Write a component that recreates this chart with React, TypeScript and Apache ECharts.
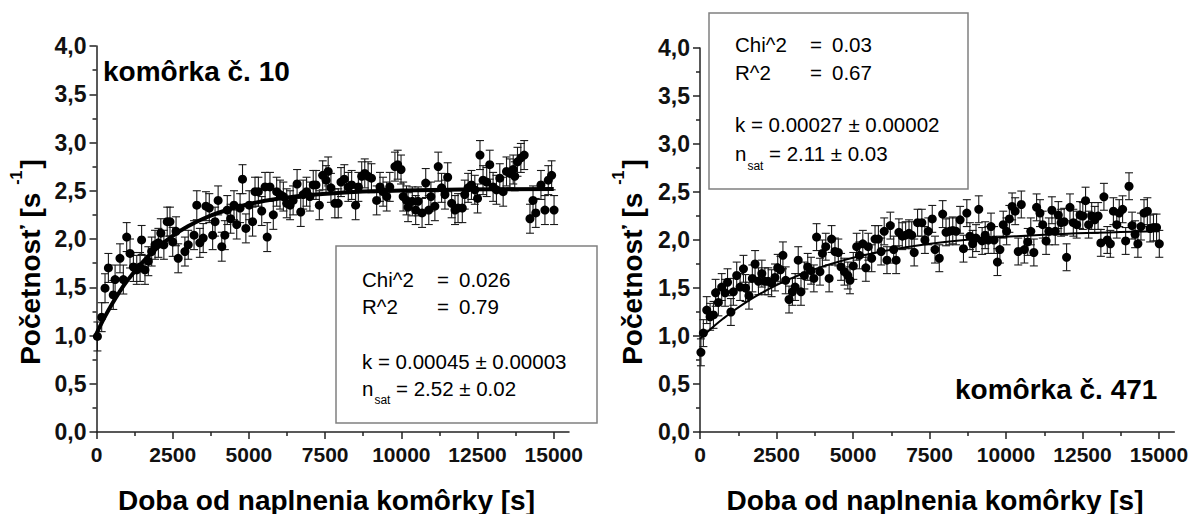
import React, { useEffect, useRef } from "react";
import * as echarts from "echarts";

// ---------- DATA ----------
const xMajorTicks = [0, 2500, 5000, 7500, 10000, 12500, 15000];
const xMinorTicks = [1250, 3750, 6250, 8750, 11250, 13750];

// cell 10 : [time s, rate s^-1]
const leftPoints: [number, number][] = [
  [30, 0.99], [170, 1.19], [280, 1.49], [390, 1.7], [550, 1.42], [610, 1.58], [770, 1.8], [880, 1.58],
  [990, 2.02], [1100, 1.85], [1210, 1.71], [1320, 1.68], [1430, 1.71], [1480, 1.99], [1590, 1.68],
  [1700, 1.77], [1810, 1.87], [1920, 1.94], [2030, 1.96], [2110, 2.06], [2210, 1.94], [2320, 2.18],
  [2410, 2.18], [2500, 1.97], [2610, 2.08], [2680, 1.8], [2900, 1.87], [3010, 1.94], [3200, 2.04],
  [3290, 2.35], [3390, 1.96], [3500, 2.01], [3590, 2.34], [3700, 2.32], [3810, 2.04], [3890, 2.18],
  [3990, 2.4], [4110, 1.92], [4210, 2.04], [4290, 2.3], [4400, 2.21], [4510, 2.35], [4600, 2.15],
  [4710, 2.32], [4790, 2.62], [4900, 2.11], [5010, 2.35], [5120, 2.18], [5200, 2.49], [5310, 2.49],
  [5420, 2.29], [5530, 2.54], [5600, 2.02], [5690, 2.54], [5800, 2.25], [5910, 2.49], [6020, 2.46],
  [6130, 2.44], [6240, 2.37], [6350, 2.35], [6450, 2.4], [6580, 2.57], [6700, 2.28], [6780, 2.46],
  [6890, 2.49], [7000, 2.44], [7110, 2.56], [7200, 2.56], [7310, 2.35], [7420, 2.66], [7530, 2.61],
  [7600, 2.7], [7690, 2.53], [7820, 2.37], [7930, 2.37], [8020, 2.59], [8130, 2.62], [8260, 2.54],
  [8370, 2.56], [8500, 2.35], [8590, 2.54], [8700, 2.65], [8800, 2.68], [8910, 2.65], [9020, 2.63],
  [9190, 2.4], [9300, 2.54], [9400, 2.49], [9520, 2.44], [9620, 2.54], [9790, 2.75], [9880, 2.77],
  [9990, 2.72], [10060, 2.44], [10170, 2.4], [10220, 2.33], [10360, 2.39], [10470, 2.3], [10550, 2.39],
  [10680, 2.27], [10800, 2.58], [10900, 2.3], [10970, 2.44], [11100, 2.34], [11210, 2.75], [11320, 2.53],
  [11430, 2.46], [11520, 2.64], [11650, 2.37], [11760, 2.3], [11860, 2.32], [12000, 2.32], [12080, 2.46],
  [12190, 2.53], [12300, 2.56], [12410, 2.51], [12500, 2.42], [12580, 2.87], [12680, 2.61], [12800, 2.59],
  [12900, 2.77], [13010, 2.54], [13120, 2.51], [13230, 2.63], [13340, 2.49], [13450, 2.7], [13560, 2.68],
  [13670, 2.72], [13720, 2.65], [13810, 2.8], [13920, 2.84], [14030, 2.87], [14220, 2.21], [14320, 2.4],
  [14410, 2.27], [14580, 2.56], [14710, 2.3], [14820, 2.61], [14930, 2.66], [15010, 2.3],
];
const leftErr = 0.15;

// cell 471
const rightPoints: [number, number][] = [
  [30, 0.83], [110, 1.03], [220, 1.27], [330, 1.2], [440, 1.22], [510, 1.45], [600, 1.35], [710, 1.51],
  [820, 1.45], [900, 1.56], [1010, 1.25], [1090, 1.46], [1200, 1.63], [1310, 1.51], [1420, 1.7], [1490, 1.5],
  [1600, 1.42], [1710, 1.6], [1800, 1.75], [1910, 1.57], [2020, 1.65], [2120, 1.57], [2230, 1.57], [2340, 1.55],
  [2450, 1.61], [2540, 1.71], [2630, 1.69], [2710, 1.84], [2800, 1.58], [2910, 1.38], [3020, 1.46], [3110, 1.51],
  [3210, 1.79], [3300, 1.46], [3410, 1.63], [3520, 1.72], [3630, 1.68], [3720, 1.6], [3810, 2.03], [3920, 1.67],
  [4000, 1.86], [4110, 1.93], [4220, 1.6], [4300, 2.01], [4410, 1.88], [4520, 1.87], [4610, 1.72], [4720, 1.67],
  [4830, 1.63], [4900, 1.58], [5010, 1.73], [5120, 1.93], [5210, 1.84], [5320, 1.96], [5420, 1.71], [5500, 1.93],
  [5610, 1.81], [5720, 2.01], [5830, 2.01], [5920, 1.88], [6020, 2.09], [6110, 1.79], [6220, 2.15], [6330, 1.9],
  [6410, 1.79], [6500, 2.08], [6610, 2.04], [6720, 2.05], [6830, 2.07], [6920, 2.05], [7000, 1.87], [7110, 2.18],
  [7250, 2.18], [7350, 2.0], [7460, 2.09], [7590, 2.22], [7680, 1.9], [7820, 1.81], [7930, 2.27], [8040, 2.08],
  [8150, 2.09], [8260, 2.1], [8370, 2.09], [8500, 2.21], [8610, 1.91], [8720, 2.28], [8820, 2.04], [8910, 1.96],
  [9020, 2.02], [9110, 2.32], [9220, 1.99], [9320, 2.05], [9420, 2.0], [9510, 2.14], [9610, 2.0], [9720, 1.77],
  [9800, 1.9], [9910, 2.16], [10020, 2.09], [10110, 2.22], [10200, 2.35], [10300, 2.3], [10400, 1.88], [10500, 2.37],
  [10600, 1.9], [10710, 1.98], [10810, 2.09], [10910, 1.87], [11000, 2.34], [11110, 2.28], [11200, 2.16], [11310, 1.99],
  [11400, 2.09], [11500, 2.31], [11610, 2.09], [11710, 2.26], [11800, 2.18], [11900, 2.19], [11980, 1.82], [12090, 2.34],
  [12200, 2.18], [12310, 2.16], [12420, 2.26], [12510, 2.25], [12600, 2.41], [12700, 2.16], [12800, 2.25], [12900, 2.21],
  [13010, 2.25], [13100, 1.97], [13200, 2.45], [13310, 2.0], [13410, 1.96], [13510, 2.3], [13620, 2.16], [13700, 2.28],
  [13810, 2.32], [13910, 1.99], [14020, 2.56], [14120, 2.15], [14220, 2.06], [14310, 1.96], [14410, 2.14], [14510, 2.28],
  [14620, 2.3], [14710, 2.12], [14820, 2.13], [14920, 2.13], [15010, 1.96],
];
const rightErr = 0.14;

// fitted curves (values read at these times)
const fitTimes = [0, 250, 500, 750, 1000, 1500, 2000, 2500, 3000, 3500, 4000, 5000, 6000, 7000, 8000, 9000, 10000, 12000, 15000];
const leftFit = [1.02, 1.18, 1.322, 1.45, 1.564, 1.756, 1.91, 2.033, 2.131, 2.21, 2.272, 2.362, 2.419, 2.456, 2.479, 2.494, 2.503, 2.513, 2.518];
const rightFit = [0.97, 1.044, 1.114, 1.179, 1.24, 1.35, 1.446, 1.53, 1.603, 1.667, 1.723, 1.815, 1.884, 1.938, 1.979, 2.01, 2.033, 2.065, 2.09];

const leftStats = { chi: "0.026", r2: "0.79", k: "k = 0.00045 ± 0.00003", n: "= 2.52 ± 0.02" };
const rightStats = { chi: "0.03", r2: "0.67", k: "k = 0.00027 ± 0.00002", n: "= 2.11 ± 0.03" };

const FONT = '"Liberation Sans", Arial, Helvetica, sans-serif';

function measure(text: string, size: number, weight: string) {
  const c = document.createElement("canvas").getContext("2d")!;
  c.font = `${weight} ${size}px "Liberation Sans", Arial, sans-serif`;
  return c.measureText(text).width;
}

function txt(x: number, y: number, text: string, size: number, weight = "normal", align = "left", extra: any = {}) {
  return {
    type: "text",
    x,
    y,
    silent: true,
    style: {
      text,
      fill: "#000",
      fontSize: size,
      fontWeight: weight,
      fontFamily: FONT,
      align,
      textAlign: align,
      verticalAlign: "middle",
      textVerticalAlign: "middle",
      ...extra,
    },
  };
}

function yTitle(cx: number, cy: number) {
  const f1 = 28, f2 = 16;
  const t1 = "Početnosť [s";
  const w1 = measure(t1, f1, "bold");
  const wsp = 8;
  const w2 = measure("-1", f2, "bold");
  const gap = 2;
  const w3 = measure("]", f1, "bold");
  const total = w1 + wsp + w2 + gap + w3;
  const x0 = -total / 2;
  return {
    type: "group",
    x: cx,
    y: cy,
    rotation: Math.PI / 2,
    children: [
      txt(x0, 0, t1, f1, "bold"),
      txt(x0 + w1 + wsp, -14, "-1", f2, "bold"),
      txt(x0 + w1 + wsp + w2 + gap, 0, "]", f1, "bold"),
    ],
  };
}

function statBox(bx: number, by: number, bw: number, bh: number, x0: number, yc: number[], s: any) {
  const fs = 20.5;
  const wn = measure("n", fs, "normal");
  return [
    {
      type: "rect",
      shape: { x: bx, y: by, width: bw, height: bh },
      style: { fill: "none", stroke: "#808080", lineWidth: 1.5 },
      silent: true,
    },
    txt(x0, yc[0], "Chi^2", fs),
    txt(x0 + 75, yc[0], "=", fs),
    txt(x0 + 97, yc[0], s.chi, fs),
    txt(x0, yc[1], "R^2", fs),
    txt(x0 + 75, yc[1], "=", fs),
    txt(x0 + 97, yc[1], s.r2, fs),
    txt(x0, yc[2], s.k, fs),
    txt(x0, yc[3], "n", fs),
    txt(x0 + wn + 1, yc[4], "sat", 12),
    txt(x0 + 34, yc[3], s.n, fs),
  ];
}

function errRender(err: number) {
  return (params: any, api: any) => {
    const t = api.value(0);
    const v = api.value(1);
    const top = api.coord([t, v + err]);
    const bot = api.coord([t, v - err]);
    const w = 4;
    const style = { stroke: "#1a1a1a", lineWidth: 1.1 };
    return {
      type: "group",
      children: [
        { type: "line", shape: { x1: top[0], y1: top[1], x2: bot[0], y2: bot[1] }, style },
        { type: "line", shape: { x1: top[0] - w, y1: top[1], x2: top[0] + w, y2: top[1] }, style },
        { type: "line", shape: { x1: bot[0] - w, y1: bot[1], x2: bot[0] + w, y2: bot[1] }, style },
      ],
    };
  };
}

const axisLineStyle = { color: "#222", width: 1.5 };
const tickLabelStyle = { fontWeight: "bold", fontFamily: FONT, color: "#111" };

function xAxes(gridIndex: number) {
  return [
    {
      type: "value",
      gridIndex,
      min: 0,
      max: 15500,
      interval: 2500,
      axisLine: { show: true, lineStyle: axisLineStyle },
      axisTick: { show: true, length: 7, lineStyle: axisLineStyle, customValues: xMajorTicks },
      minorTick: { show: false },
      splitLine: { show: false },
      axisLabel: {
        ...tickLabelStyle,
        fontSize: 21,
        margin: 12,
        customValues: xMajorTicks,
        formatter: (v: number) => (v > 15000 ? "" : String(v)),
      },
    },
    {
      type: "value",
      gridIndex,
      min: 0,
      max: 15500,
      interval: 2500,
      position: "bottom",
      axisLine: { show: false },
      axisTick: { show: true, length: 4, lineStyle: axisLineStyle, customValues: xMinorTicks },
      splitLine: { show: false },
      axisLabel: { show: false },
    },
  ];
}

function yAxis(gridIndex: number) {
  return {
    type: "value",
    gridIndex,
    min: 0,
    max: 4,
    interval: 0.5,
    axisLine: { show: true, lineStyle: axisLineStyle },
    axisTick: { show: true, length: 7, lineStyle: axisLineStyle },
    minorTick: { show: true, splitNumber: 2, length: 4, lineStyle: axisLineStyle },
    splitLine: { show: false },
    minorSplitLine: { show: false },
    axisLabel: {
      ...tickLabelStyle,
      fontSize: 23,
      margin: 10,
      formatter: (v: number) => v.toFixed(1).replace(".", ","),
    },
  };
}

function panelSeries(xi: number, yi: number, pts: [number, number][], err: number, fit: number[], lw: number) {
  return [
    {
      type: "custom",
      xAxisIndex: xi,
      yAxisIndex: yi,
      data: pts,
      renderItem: errRender(err),
      z: 1,
      silent: true,
    },
    {
      type: "scatter",
      xAxisIndex: xi,
      yAxisIndex: yi,
      data: pts,
      symbol: "circle",
      symbolSize: 9,
      itemStyle: { color: "#000", opacity: 1 },
      z: 2,
      silent: true,
    },
    {
      type: "line",
      xAxisIndex: xi,
      yAxisIndex: yi,
      data: fitTimes.map((t, i) => [t, fit[i]]),
      smooth: 0.4,
      showSymbol: false,
      symbol: "none",
      lineStyle: { color: "#000", width: lw },
      z: 3,
      silent: true,
    },
  ];
}

export default function App() {
  const ref = useRef<HTMLDivElement>(null);
  useEffect(() => {
    document.body.style.margin = "0";
    const chart = echarts.init(ref.current!, null, { renderer: "svg" });
    const option: any = {
      animation: false,
      backgroundColor: "#fff",
      grid: [
        { left: 96.5, top: 46, width: 472.5, height: 386, containLabel: false, outerBoundsMode: "none" },
        { left: 700, top: 48, width: 474.3, height: 384, containLabel: false, outerBoundsMode: "none" },
      ],
      xAxis: [...xAxes(0), ...xAxes(1)],
      yAxis: [yAxis(0), yAxis(1)],
      series: [
        ...panelSeries(0, 0, leftPoints, leftErr, leftFit, 4),
        ...panelSeries(2, 1, rightPoints, rightErr, rightFit, 2),
      ],
      graphic: [
        txt(103, 71, "komôrka č. 10", 28, "bold"),
        txt(955, 389.5, "komôrka č. 471", 28, "bold"),
        txt(326.5, 500, "Doba od naplnenia komôrky [s]", 28, "bold", "center"),
        txt(935, 500, "Doba od naplnenia komôrky [s]", 28, "bold", "center"),
        yTitle(30, 262),
        yTitle(632, 262),
        ...statBox(336, 246, 261, 177, 362, [279.8, 306.4, 361.4, 388.1, 399.8], leftStats),
        ...statBox(709, 13, 259, 176, 735, [44.8, 72.1, 124.8, 153.1, 165.8], rightStats),
      ],
    };
    chart.setOption(option);
    return () => chart.dispose();
  }, []);
  return <div ref={ref} style={{ width: 1191, height: 514 }} />;
}
